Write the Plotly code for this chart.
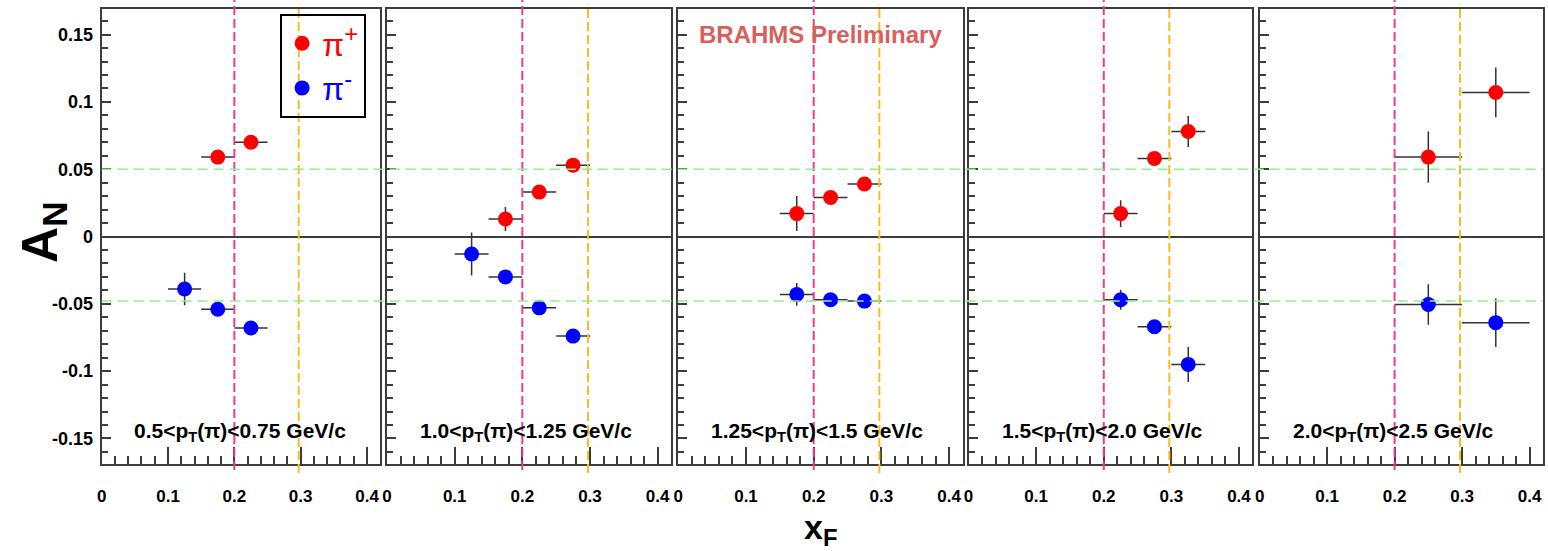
import plotly.graph_objects as go

# ---------------- data ----------------
panel_labels = [
    "0.5&lt;p<sub>T</sub>(π)&lt;0.75 GeV/c",
    "1.0&lt;p<sub>T</sub>(π)&lt;1.25 GeV/c",
    "1.25&lt;p<sub>T</sub>(π)&lt;1.5 GeV/c",
    "1.5&lt;p<sub>T</sub>(π)&lt;2.0 GeV/c",
    "2.0&lt;p<sub>T</sub>(π)&lt;2.5 GeV/c",
]

pip_x = [[0.175, 0.225],
         [0.175, 0.225, 0.275],
         [0.175, 0.225, 0.275],
         [0.225, 0.275, 0.325],
         [0.25, 0.35]]
pip_y = [[0.059, 0.070],
         [0.013, 0.033, 0.053],
         [0.017, 0.029, 0.039],
         [0.017, 0.058, 0.078],
         [0.059, 0.107]]
pip_ey = [[0.003, 0.003],
          [0.009, 0.004, 0.004],
          [0.013, 0.004, 0.004],
          [0.010, 0.004, 0.0115],
          [0.019, 0.0185]]

pim_x = [[0.125, 0.175, 0.225],
         [0.125, 0.175, 0.225, 0.275],
         [0.175, 0.225, 0.275],
         [0.225, 0.275, 0.325],
         [0.25, 0.35]]
pim_y = [[-0.039, -0.054, -0.068],
         [-0.013, -0.030, -0.053, -0.074],
         [-0.043, -0.047, -0.048],
         [-0.047, -0.067, -0.095],
         [-0.0505, -0.064]]
pim_ey = [[0.012, 0.004, 0.004],
          [0.016, 0.004, 0.005, 0.004],
          [0.0085, 0.004, 0.004],
          [0.0075, 0.004, 0.013],
          [0.015, 0.018]]

x_halfwidth = [0.025, 0.025, 0.025, 0.025, 0.05]

xtick_vals = [0, 0.1, 0.2, 0.3, 0.4]
xtick_text = ["0", "0.1", "0.2", "0.3", "0.4"]
ytick_vals = [0.15, 0.1, 0.05, 0, -0.05, -0.1, -0.15]
ytick_text = ["0.15", "0.1", "0.05", "0", "-0.05", "-0.1", "-0.15"]

ref_lines_y = [0.05, -0.048]      # green dashed
ref_line_x_pink = 0.2
ref_line_x_yellow = 0.297

# ---------------- layout geometry ----------------
W, H = 1548, 551
panel_px = [(97, 376.5), (383.3, 668.3), (675.5, 960.7), (966.7, 1251.5), (1258.7, 1543)]
domains = [[a / W, b / W] for a, b in panel_px]

FONT = "Liberation Sans"
FRAME = "#3c3c3c"
RED = "#ff0000"
BLUE = "#0000ff"

fig = go.Figure()

for i in range(5):
    xa = "x" if i == 0 else f"x{i+1}"
    ya = "y" if i == 0 else f"y{i+1}"
    ex = [x_halfwidth[i]] * len(pip_x[i])
    fig.add_trace(go.Scatter(
        x=pip_x[i], y=pip_y[i], mode="markers", xaxis=xa, yaxis=ya,
        name='<span style="color:#ff0000">π<sup><span style="font-size:24px">+</span></sup></span>',
        showlegend=(i == 0), legendrank=1,
        marker=dict(color=RED, size=15, line=dict(width=0)),
        error_x=dict(type="data", array=ex, color="#333333", thickness=1.5, width=0),
        error_y=dict(type="data", array=pip_ey[i], color="#333333", thickness=1.5, width=0),
    ))
    ex2 = [x_halfwidth[i]] * len(pim_x[i])
    fig.add_trace(go.Scatter(
        x=pim_x[i], y=pim_y[i], mode="markers", xaxis=xa, yaxis=ya,
        name='<span style="color:#0000ff">π<sup><span style="font-size:24px">-</span></sup></span>',
        showlegend=(i == 0), legendrank=2,
        marker=dict(color=BLUE, size=15, line=dict(width=0)),
        error_x=dict(type="data", array=ex2, color="#333333", thickness=1.5, width=0),
        error_y=dict(type="data", array=pim_ey[i], color="#333333", thickness=1.5, width=0),
    ))

layout = dict(
    width=W, height=H,
    margin=dict(l=0, r=0, t=9, b=87),
    paper_bgcolor="white", plot_bgcolor="rgba(0,0,0,0)",
    font=dict(family=FONT, color="black"),
    showlegend=True,
    legend=dict(
        x=276 / W, y=(464 - 14) / 455, xanchor="left", yanchor="top",
        bgcolor="rgba(255,255,255,0)", bordercolor="black", borderwidth=2,
        font=dict(family=FONT, size=32),
        itemsizing="trace", tracegroupgap=0, itemwidth=30,
    ),
)

shapes = []
annotations = []
for i in range(5):
    sfx = "" if i == 0 else str(i + 1)
    layout[f"xaxis{sfx}"] = dict(
        domain=domains[i], range=[0, 0.42], anchor=f"y{sfx}",
        showline=True, mirror=True, linecolor=FRAME, linewidth=2,
        ticks="inside", ticklen=17, tickwidth=1.5, tickcolor=FRAME,
        tickmode="array", tickvals=xtick_vals, ticktext=xtick_text,
        tickfont=dict(family=FONT, size=17, color="black", weight="bold"),
        ticklabelstandoff=16,
        minor=dict(tickmode="linear", tick0=0, dtick=0.02, ticks="inside",
                   ticklen=8, tickwidth=1.5, tickcolor=FRAME),
        showgrid=False, zeroline=False, fixedrange=True,
    )
    layout[f"yaxis{sfx}"] = dict(
        domain=[0, 1], range=[-0.169, 0.169], anchor=f"x{sfx}",
        showline=True, mirror=True, linecolor=FRAME, linewidth=2,
        ticks="inside", ticklen=9, tickwidth=1.5, tickcolor=FRAME,
        tickmode="array", tickvals=ytick_vals, ticktext=ytick_text,
        showticklabels=(i == 0),
        tickfont=dict(family=FONT, size=18, color="black", weight="bold"),
        ticklabelstandoff=3,
        minor=dict(tickmode="linear", tick0=0, dtick=0.01, ticks="inside",
                   ticklen=6, tickwidth=1.5, tickcolor=FRAME),
        showgrid=False, zeroline=True, zerolinecolor=FRAME, zerolinewidth=1.5,
        fixedrange=True,
    )
    # vertical reference lines
    shapes.append(dict(type="line", xref=f"x{sfx}", yref="paper",
                       x0=ref_line_x_pink, x1=ref_line_x_pink, y0=-0.013, y1=1.02,
                       line=dict(color="#f03a8c", width=2, dash="9px,4px"), layer="above"))
    shapes.append(dict(type="line", xref=f"x{sfx}", yref="paper",
                       x0=ref_line_x_yellow, x1=ref_line_x_yellow, y0=-0.02, y1=1.01,
                       line=dict(color="#f7bd1e", width=2, dash="9px,4px"), layer="above"))
    annotations.append(dict(
        text=panel_labels[i], xref=f"x{sfx}", yref=f"y{sfx}",
        x=0.046, y=-0.145, xanchor="left", yanchor="middle", showarrow=False,
        font=dict(family=FONT, size=21, color="black", weight="bold"),
    ))

for yv in ref_lines_y:
    shapes.append(dict(type="line", xref="paper", yref="y",
                       x0=domains[0][0], x1=domains[4][1], y0=yv, y1=yv,
                       line=dict(color="#90ee90", width=1.5, dash="10px,6px"), layer="above"))

annotations.append(dict(
    text="BRAHMS Preliminary", xref="paper", yref="paper",
    x=818 / W, y=(464 - 34) / 455, xanchor="center", yanchor="middle", showarrow=False,
    font=dict(family=FONT, size=24, color="#d95f5c", weight="bold"),
))
annotations.append(dict(
    text="A<sub>N</sub>", xref="paper", yref="paper", textangle=-90,
    x=38 / W, y=(464 - 232) / 455, xanchor="center", yanchor="middle", showarrow=False,
    font=dict(family=FONT, size=50, color="black", weight="bold"),
))
annotations.append(dict(
    text="x<sub>F</sub>", xref="paper", yref="paper",
    x=818 / W, y=(464 - 529) / 455, xanchor="center", yanchor="middle", showarrow=False,
    font=dict(family=FONT, size=34, color="black", weight="bold"),
))

layout["shapes"] = shapes
layout["annotations"] = annotations
fig.update_layout(**layout)

fig.write_html("out.html")
